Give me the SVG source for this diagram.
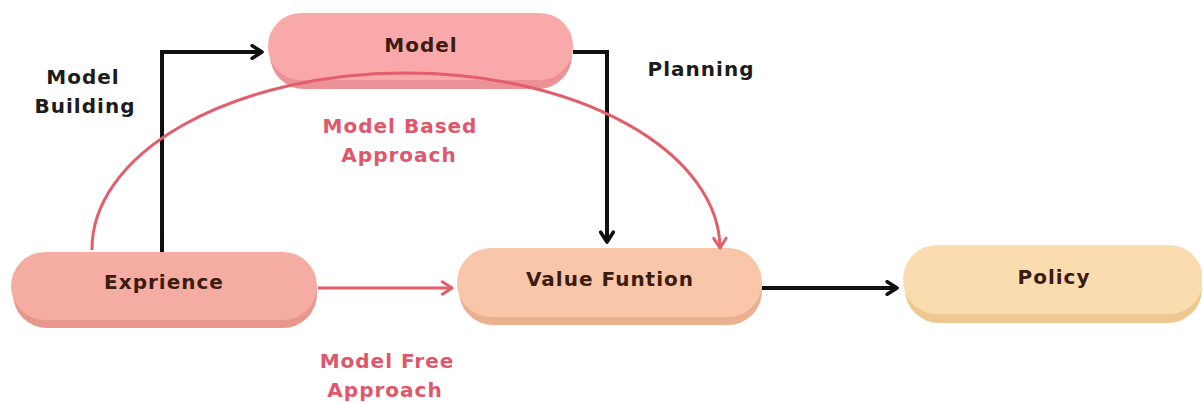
<svg xmlns="http://www.w3.org/2000/svg" width="1202" height="403" viewBox="0 0 1202 403">
  <style>
    .label { font-family: "DejaVu Sans", "Liberation Sans", sans-serif; font-weight: 700; font-size: 20px; letter-spacing: 1px; text-anchor: middle; }
    .node-text { fill: #3b1c12; }
    .dark { fill: #1c1c1c; }
    .red { fill: #e0566a; }
    .line-black { fill: none; stroke: #111; stroke-width: 4; }
    .line-red { fill: none; stroke: #e35d6a; stroke-width: 3; }
  </style>
  <defs>
    <marker id="arrow-black" viewBox="0 0 12 12" refX="9" refY="6" markerWidth="4.2" markerHeight="4.2" orient="auto" markerUnits="strokeWidth">
      <path d="M2 1.5 L9 6 L2 10.5" fill="none" stroke="#111" stroke-width="2.6" stroke-linecap="round" stroke-linejoin="round"/>
    </marker>
    <marker id="arrow-red" viewBox="0 0 12 12" refX="9" refY="6" markerWidth="5.5" markerHeight="5.5" orient="auto" markerUnits="strokeWidth">
      <path d="M2 1.5 L9 6 L2 10.5" fill="none" stroke="#e35d6a" stroke-width="2.2" stroke-linecap="round" stroke-linejoin="round"/>
    </marker>
  </defs>

  <rect width="1202" height="403" fill="#ffffff"/>

  <!-- nodes: darker base pill under a lighter face -->
  <g id="model">
    <rect x="270" y="20" width="302" height="69" rx="34" fill="#ec9196"/>
    <rect x="268" y="13" width="305" height="67" rx="33" fill="#f9a9aa"/>
    <text class="label node-text" x="421" y="52">Model</text>
  </g>
  <g id="experience">
    <rect x="13" y="259" width="304" height="69" rx="34" fill="#e9978d"/>
    <rect x="11" y="252" width="306" height="68" rx="34" fill="#f5aca2"/>
    <text class="label node-text" x="164" y="289">Exprience</text>
  </g>
  <g id="value-function">
    <rect x="459" y="256" width="303" height="69" rx="34" fill="#eab090"/>
    <rect x="457" y="248" width="305" height="69" rx="34" fill="#f9c6a9"/>
    <text class="label node-text" x="610" y="286">Value Funtion</text>
  </g>
  <g id="policy">
    <rect x="905" y="253" width="297" height="70" rx="34" fill="#efc791"/>
    <rect x="903" y="245" width="300" height="69" rx="34" fill="#fbdcae"/>
    <text class="label node-text" x="1054" y="284">Policy</text>
  </g>

  <!-- connectors -->
  <g id="connectors">
    <path class="line-black" d="M162 252 V52 H262" marker-end="url(#arrow-black)"/>
    <path class="line-black" d="M573 52 H607 V242" marker-end="url(#arrow-black)"/>
    <path class="line-black" d="M762 288 H897" marker-end="url(#arrow-black)"/>
    <path class="line-red" d="M318 288 H452" marker-end="url(#arrow-red)"/>
    <path class="line-red" d="M92 250 A 314 176 0 0 1 720 248" marker-end="url(#arrow-red)"/>
  </g>

  <!-- edge labels -->
  <g id="labels">
    <text class="label dark" x="83" y="84">Model</text>
    <text class="label dark" x="85" y="113">Building</text>
    <text class="label dark" x="701" y="76">Planning</text>
    <text class="label red" x="400" y="133">Model Based</text>
    <text class="label red" x="399" y="162">Approach</text>
    <text class="label red" x="387" y="368">Model Free</text>
    <text class="label red" x="385" y="397">Approach</text>
  </g>
</svg>
